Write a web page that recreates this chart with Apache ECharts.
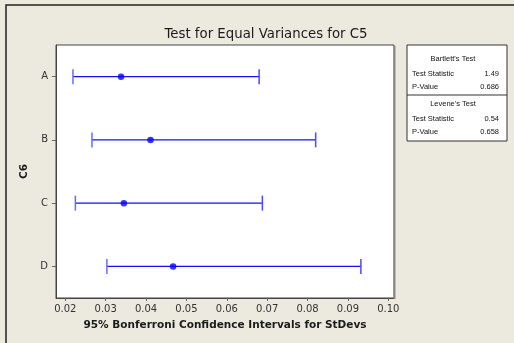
<!DOCTYPE html>
<html>
<head>
<meta charset="utf-8">
<script src="https://cdn.jsdelivr.net/npm/echarts@6/dist/echarts.min.js"></script>
<style>
  html, body { margin: 0; padding: 0; background: #ECE9DF; }
  #chart { width: 514px; height: 343px; }
</style>
</head>
<body>
<div id="chart"></div>
<script>
// groups in C6, top to bottom
var categories = ["A", "B", "C", "D"];
// 95% Bonferroni intervals for the standard deviations
var lowerCI = [0.0219, 0.0266, 0.0225, 0.0303];
var stdevs = [0.0338, 0.0411, 0.0345, 0.0467];
var upperCI = [0.0680, 0.0820, 0.0688, 0.0932];
var xTicks = [0.02, 0.03, 0.04, 0.05, 0.06, 0.07, 0.08, 0.09, 0.10];

var bartlett = { stat: "1.49", p: "0.686" };
var levene = { stat: "0.54", p: "0.658" };

var chart = echarts.init(document.getElementById("chart"));

var font = "DejaVu Sans";
var smallFont = "Liberation Sans";
var textColor = "#333";

function panelText(x, y, text, align) {
    return {
        type: "text",
        x: x,
        y: y,
        style: {
            text: text,
            font: "7.5px " + smallFont,
            fill: "#111",
            align: align,
            verticalAlign: "middle",
        },
    };
}

var intervalData = categories.map(function (c, i) {
    return [i, lowerCI[i], upperCI[i]];
});
var pointData = categories.map(function (c, i) {
    return [stdevs[i], c];
});

var option = {
    backgroundColor: "#ECE9DF",
    animation: false,
    title: {
        text: "Test for Equal Variances for C5",
        left: 261,
        top: 23,
        textAlign: "center",
        textStyle: {
            fontFamily: font,
            fontSize: 13.3,
            fontWeight: "normal",
            color: "#1a1a1a",
        },
    },
    grid: {
        left: 56,
        top: 45,
        right: 120,
        bottom: 45,
        show: true,
        backgroundColor: "#ffffff",
        borderColor: "#444",
        borderWidth: 1,
    },
    xAxis: {
        type: "value",
        min: 0.0177,
        max: 0.1014,
        name: "95% Bonferroni Confidence Intervals for StDevs",
        nameLocation: "middle",
        nameGap: 22,
        nameTextStyle: {
            fontFamily: font,
            fontSize: 10.5,
            fontWeight: "bold",
            color: "#1a1a1a",
        },
        splitLine: { show: false },
        axisLine: { show: true, lineStyle: { color: "#444" } },
        axisTick: {
            show: true,
            length: 3,
            customValues: xTicks,
            lineStyle: { color: "#666" },
        },
        axisLabel: {
            customValues: xTicks,
            margin: 6,
            fontFamily: font,
            fontSize: 10,
            color: textColor,
            formatter: function (v) {
                return v.toFixed(2);
            },
        },
    },
    yAxis: {
        type: "category",
        data: categories,
        inverse: true,
        name: "C6",
        nameLocation: "middle",
        nameGap: 21,
        nameRotate: 90,
        nameTextStyle: {
            fontFamily: font,
            fontSize: 10.5,
            fontWeight: "bold",
            color: "#1a1a1a",
        },
        axisLine: { show: true, lineStyle: { color: "#444" } },
        axisTick: {
            show: true,
            alignWithLabel: true,
            length: 4,
            lineStyle: { color: "#666" },
        },
        axisLabel: {
            margin: 8,
            fontFamily: font,
            fontSize: 10,
            color: textColor,
        },
        splitLine: { show: false },
    },
    series: [
        {
            type: "custom",
            data: intervalData,
            encode: { x: [1, 2], y: 0 },
            renderItem: function (params, api) {
                var cat = api.value(0);
                var lo = api.coord([api.value(1), cat]);
                var hi = api.coord([api.value(2), cat]);
                var h = 7.5;
                return {
                    type: "group",
                    children: [
                        {
                            type: "line",
                            shape: { x1: lo[0], y1: lo[1], x2: hi[0], y2: hi[1] },
                            style: { stroke: "#1010f0", lineWidth: 1.3 },
                        },
                        {
                            type: "line",
                            shape: { x1: lo[0], y1: lo[1] - h, x2: lo[0], y2: lo[1] + h },
                            style: { stroke: "#6a6af8", lineWidth: 1.5 },
                        },
                        {
                            type: "line",
                            shape: { x1: hi[0], y1: hi[1] - h, x2: hi[0], y2: hi[1] + h },
                            style: { stroke: "#4a4af4", lineWidth: 1.5 },
                        },
                    ],
                };
            },
            z: 2,
        },
        {
            type: "scatter",
            data: pointData,
            symbol: "circle",
            symbolSize: 6.5,
            itemStyle: { color: "#0000ff" },
            z: 3,
        },
    ],
    graphic: [
        {
            type: "rect",
            shape: { x: 6, y: 5, width: 600, height: 400 },
            style: { fill: null, stroke: "#222", lineWidth: 1.5 },
            silent: true,
        },
        {
            type: "line",
            shape: { x1: 394.5, y1: 46, x2: 394.5, y2: 299 },
            style: { stroke: "#888", lineWidth: 2 },
            z: 10,
        },
        {
            type: "group",
            children: [
                {
                    type: "rect",
                    shape: { x: 407, y: 45, width: 100, height: 96 },
                    style: { fill: "#ffffff", stroke: "#333", lineWidth: 1 },
                },
                {
                    type: "line",
                    shape: { x1: 407, y1: 95, x2: 507, y2: 95 },
                    style: { stroke: "#333", lineWidth: 1 },
                },
                panelText(453, 59, "Bartlett's Test", "center"),
                panelText(412, 74, "Test Statistic", "left"),
                panelText(499, 74, bartlett.stat, "right"),
                panelText(412, 87, "P-Value", "left"),
                panelText(499, 87, bartlett.p, "right"),
                panelText(453, 104, "Levene's Test", "center"),
                panelText(412, 119, "Test Statistic", "left"),
                panelText(499, 119, levene.stat, "right"),
                panelText(412, 132, "P-Value", "left"),
                panelText(499, 132, levene.p, "right"),
            ],
        },
    ],
};

chart.setOption(option);
</script>
</body>
</html>
